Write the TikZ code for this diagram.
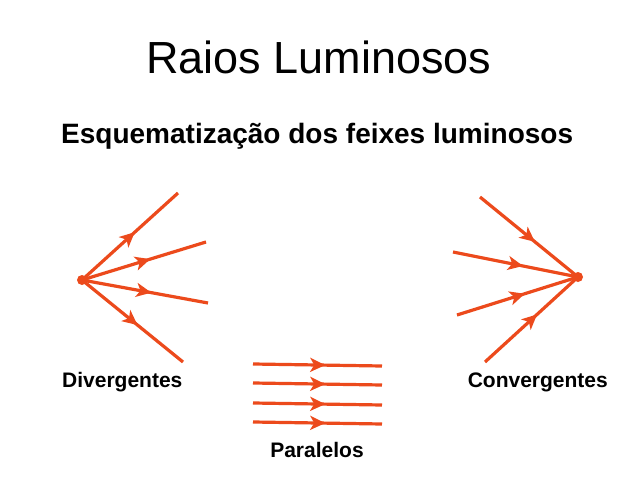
\documentclass[tikz,border=0pt]{standalone}
\usepackage{fontspec}
\setmainfont{Liberation Sans}
\usepackage{tikz}
\usepackage{xcolor}
\usetikzlibrary{positioning, arrows.meta, decorations.markings}
\definecolor{rayRed}{HTML}{EC4A1C}

\begin{document}
\begin{tikzpicture}[
  x=1pt, y=-1pt,
  ray/.style={draw=rayRed, line width=3.2pt, postaction={decorate},
              decoration={markings, mark=at position #1 with
                {\arrow{Stealth[length=15pt, width=14pt, inset=4pt]}}}},
  ray/.default=0.56,
  focus/.style={circle, fill=rayRed, inner sep=0pt, minimum size=10pt},
  label/.style={inner sep=0pt, font=\bfseries\fontsize{21}{25}\selectfont},
]
  \useasboundingbox[fill=white] (0,0) rectangle (638,479);

  % titles
  \node[inner sep=0pt, anchor=base, font=\fontsize{45}{54}\selectfont]
    (title) at (319,73) {Raios Luminosos};
  \node[inner sep=0pt, anchor=base west, font=\bfseries\fontsize{28}{34}\selectfont]
    (subtitle) at (61,143) {Esquematização dos feixes luminosos};

  % divergent beam
  \node[focus] (src) at (82,280) {};
  \coordinate (d1) at (178,193);
  \coordinate (d2) at (206,242);
  \coordinate (d3) at (208,303);
  \coordinate (d4) at (183,362);
  \foreach \e in {d1,d2,d3,d4}
    \draw[ray=0.55] (src.center) -- (\e);

  % convergent beam
  \node[focus] (sink) at (578,277) {};
  \coordinate (c1) at (480,197);
  \coordinate (c2) at (453,252);
  \coordinate (c3) at (457,315);
  \coordinate (c4) at (485,362);
  \foreach \s in {c1,c2,c3,c4}
    \draw[ray] (\s) -- (sink.center);

  % parallel beam
  \foreach \i/\y in {1/364,2/383,3/403,4/422} {
    \coordinate (p\i s) at (253,\y);
    \coordinate (p\i e) at (382,\y+2);
    \draw[ray] (p\i s) -- (p\i e);
  }

  % labels
  \node[label, anchor=base west] (divLabel) at (62,387) {Divergentes};
  \node[label, anchor=base east] (convLabel) at (608,387) {Convergentes};
  \node[label, anchor=base] (parLabel) at (317,457) {Paralelos};
\end{tikzpicture}
\end{document}
